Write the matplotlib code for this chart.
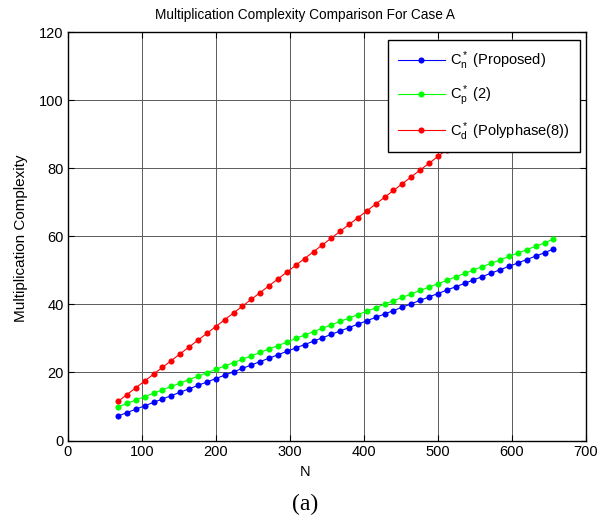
import matplotlib
matplotlib.use("Agg")
import matplotlib.pyplot as plt

N = [68, 80, 92, 104, 116, 128, 140, 152, 164, 176,
     188, 200, 212, 224, 236, 248, 260, 272, 284, 296,
     308, 320, 332, 344, 356, 368, 380, 392, 404, 416,
     428, 440, 452, 464, 476, 488, 500, 512, 524, 536,
     548, 560, 572, 584, 596, 608, 620, 632, 644, 656]

proposed = [7.2, 8.2, 9.2, 10.2, 11.2, 12.2, 13.2, 14.2, 15.2, 16.2,
            17.2, 18.2, 19.2, 20.2, 21.2, 22.2, 23.2, 24.2, 25.2, 26.2,
            27.2, 28.2, 29.2, 30.2, 31.2, 32.2, 33.2, 34.2, 35.2, 36.2,
            37.2, 38.2, 39.2, 40.2, 41.2, 42.2, 43.2, 44.2, 45.2, 46.2,
            47.2, 48.2, 49.2, 50.2, 51.2, 52.2, 53.2, 54.2, 55.2, 56.3]

two = [9.9, 10.9, 11.9, 12.9, 13.9, 14.9, 15.9, 16.9, 17.9, 18.9,
       19.9, 20.9, 21.9, 22.9, 23.9, 24.9, 25.9, 26.9, 27.9, 28.9,
       30.0, 31.0, 32.0, 33.0, 34.0, 35.0, 36.0, 37.0, 38.0, 39.0,
       40.1, 41.1, 42.1, 43.1, 44.1, 45.1, 46.1, 47.1, 48.1, 49.1,
       50.1, 51.1, 52.1, 53.1, 54.1, 55.1, 56.1, 57.1, 58.1, 59.2]

polyphase = [11.5, 13.5, 15.5, 17.5, 19.5, 21.5, 23.5, 25.5, 27.5, 29.5,
             31.5, 33.5, 35.5, 37.5, 39.5, 41.5, 43.5, 45.5, 47.5, 49.5,
             51.5, 53.5, 55.5, 57.5, 59.5, 61.5, 63.5, 65.5, 67.5, 69.5,
             71.5, 73.5, 75.5, 77.5, 79.5, 81.5, 83.5, 85.5, 87.5, 89.5,
             91.5, 93.5, 95.5, 97.5, 99.5, 101.5, 103.5, 105.5, 107.5, 109.5]

labels = [r"C$_n^*$ (Proposed)", r"C$_p^*$ (2)", r"C$_d^*$ (Polyphase(8))"]
colors = ["#0000ff", "#00ff00", "#ff0000"]

plt.rcParams["font.family"] = ["Liberation Sans", "DejaVu Sans"]
plt.rcParams["mathtext.fontset"] = "custom"
plt.rcParams["mathtext.rm"] = "Liberation Sans"
plt.rcParams["mathtext.it"] = "Liberation Sans"

W, H = 611, 526
fig = plt.figure(figsize=(W / 100, H / 100), dpi=100)
ax = fig.add_axes([67.7 / W, (H - 440.5) / H, 518.3 / W, 408.2 / H])

for ys, c, lab in zip([proposed, two, polyphase], colors, labels):
    ax.plot(N, ys, color=c, lw=0.8, marker="o", markersize=4.4,
            markeredgewidth=0, label=lab)

ax.set_xlim(0, 700)
ax.set_ylim(0, 120)
ax.set_xticks(range(0, 701, 100))
ax.set_yticks(range(0, 121, 20))
ax.grid(True, color="#5a5a5a", lw=0.7)
ax.set_axisbelow(True)
ax.tick_params(direction="in", top=True, right=True, labelsize=10.5, length=4,
               width=0.8, pad=3)
for s in ax.spines.values():
    s.set_linewidth(1.0)

fig.text(305 / W, 1 - 15 / H, "Multiplication Complexity Comparison For Case A",
         ha="center", va="center", fontsize=9.8)
fig.text(305 / W, 1 - 472 / H, "N", ha="center", va="center", fontsize=10.5)
fig.text(21.5 / W, 1 - 238 / H, "Multiplication Complexity", ha="center",
         va="center", rotation=90, fontsize=11)

leg = ax.legend(loc="upper right", fontsize=10.5, fancybox=False, framealpha=1,
                edgecolor="black", bbox_to_anchor=(579.5 / W, 1 - 40 / H),
                bbox_transform=fig.transFigure, borderaxespad=0,
                handlelength=3.2, handletextpad=0.4,
                labelspacing=0.8, borderpad=0.65)
leg.get_frame().set_linewidth(1.0)

fig.text(305 / W, 1 - 504 / H, "(a)", ha="center", va="center",
         fontsize=17, family="Liberation Serif")

fig.savefig("out.png", dpi=100)
